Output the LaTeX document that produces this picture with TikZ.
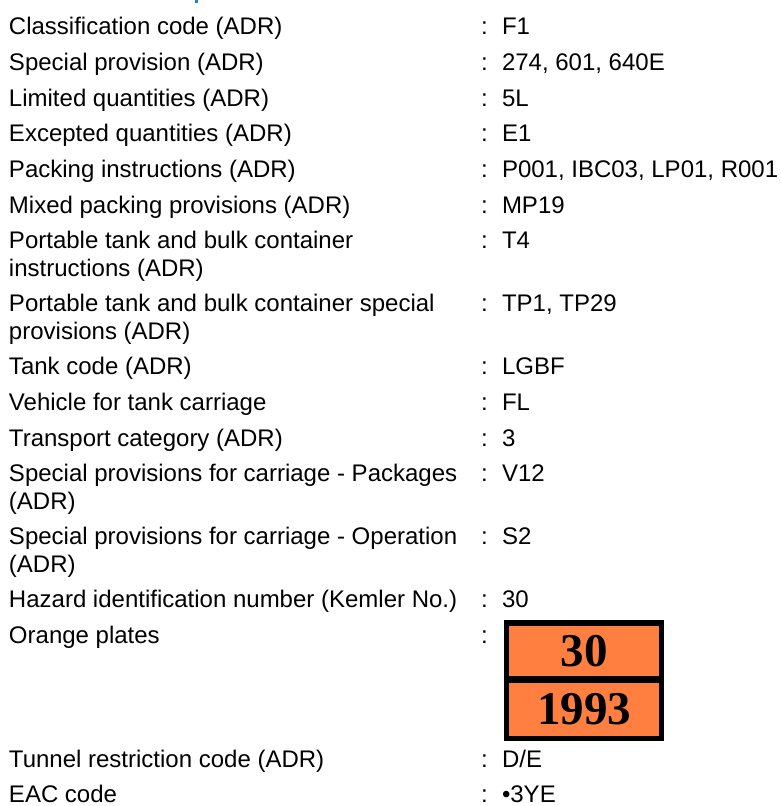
\documentclass[tikz,border=0pt]{standalone}
\usepackage{fontspec}
\setmainfont{Liberation Sans}
\newfontfamily\platefont{Liberation Serif}

\definecolor{plateorange}{RGB}{255,127,65}
\definecolor{headblue}{RGB}{28,126,214}

\begin{document}
\begin{tikzpicture}[
      x=1pt, y=-1pt,
      nodes={
        inner sep=0pt, outer sep=0pt, anchor=base west,
        font=\fontsize{24}{27}\selectfont
      },
      colon/.style={},
      plateback/.style={fill=black, anchor=center, minimum width=160pt, minimum height=121pt},
      platefield/.style={fill=plateorange, anchor=center, minimum width=150pt,
        font=\platefont\bfseries\fontsize{47}{50}\selectfont}
      ]
  \useasboundingbox (0,0) rectangle (781,806);

  % cut-off heading
  \fill[headblue] (195,0) rectangle (198,3);

  % labels
  \node (l1)  at (9,34.8)  {Classification code (ADR)};
  \node (l2)  at (9,70.5)  {Special provision (ADR)};
  \node (l3)  at (9,106.1) {Limited quantities (ADR)};
  \node (l4)  at (9,141.8) {Excepted quantities (ADR)};
  \node (l5)  at (9,177.5) {Packing instructions (ADR)};
  \node (l6)  at (9,213.1) {Mixed packing provisions (ADR)};
  \node (l7)  at (9,248.8) {Portable tank and bulk container};
  \node (l7b) at ([yshift=-27.3pt]l7.base west) {instructions (ADR)};
  \node (l8)  at (9,311.8) {Portable tank and bulk container special};
  \node (l8b) at ([yshift=-27.3pt]l8.base west) {provisions (ADR)};
  \node (l9)  at (9,374.7) {Tank code (ADR)};
  \node (l10) at (9,410.4) {Vehicle for tank carriage};
  \node (l11) at (9,446.1) {Transport category (ADR)};
  \node (l12) at (9,481.7) {Special provisions for carriage - Packages};
  \node (l12b) at ([yshift=-27.3pt]l12.base west) {(ADR)};
  \node (l13) at (9,544.7) {Special provisions for carriage - Operation};
  \node (l13b) at ([yshift=-27.3pt]l13.base west) {(ADR)};
  \node (l14) at (9,607.7) {Hazard identification number (Kemler No.)};
  \node (l15) at (9,643.3) {Orange plates};
  \node (l16) at (9,767)   {Tunnel restriction code (ADR)};
  \node (l17) at (9,802)   {EAC code};

  % colons
  \node[colon] (c1)  at (481,34.8)  {:};
  \node[colon] (c2)  at (481,70.5)  {:};
  \node[colon] (c3)  at (481,106.1) {:};
  \node[colon] (c4)  at (481,141.8) {:};
  \node[colon] (c5)  at (481,177.5) {:};
  \node[colon] (c6)  at (481,213.1) {:};
  \node[colon] (c7)  at (481,248.8) {:};
  \node[colon] (c8)  at (481,311.8) {:};
  \node[colon] (c9)  at (481,374.7) {:};
  \node[colon] (c10) at (481,410.4) {:};
  \node[colon] (c11) at (481,446.1) {:};
  \node[colon] (c12) at (481,481.7) {:};
  \node[colon] (c13) at (481,544.7) {:};
  \node[colon] (c14) at (481,607.7) {:};
  \node[colon] (c15) at (481,643.3) {:};
  \node[colon] (c16) at (481,767)   {:};
  \node[colon] (c17) at (481,802)   {:};

  % values
  \node (v1)  at (502,34.8)  {F1};
  \node (v2)  at (502,70.5)  {274, 601, 640E};
  \node (v3)  at (502,106.1) {5L};
  \node (v4)  at (502,141.8) {E1};
  \node (v5)  at (502,177.5) {P001, IBC03, LP01, R001};
  \node (v6)  at (502,213.1) {MP19};
  \node (v7)  at (502,248.8) {T4};
  \node (v8)  at (502,311.8) {TP1, TP29};
  \node (v9)  at (502,374.7) {LGBF};
  \node (v10) at (502,410.4) {FL};
  \node (v11) at (502,446.1) {3};
  \node (v12) at (502,481.7) {V12};
  \node (v13) at (502,544.7) {S2};
  \node (v14) at (502,607.7) {30};
  \node (v16) at (502,767)   {D/E};
  \node (v17) at (502,802)   {•3YE};

  % orange plate
  \node[plateback] (plate) at (584,680.5) {};
  \node[platefield, minimum height=50pt] (hin) at (584,651) {30};
  \node[platefield, minimum height=53pt] (un) at (584,709.5) {1993};

\end{tikzpicture}
\end{document}
